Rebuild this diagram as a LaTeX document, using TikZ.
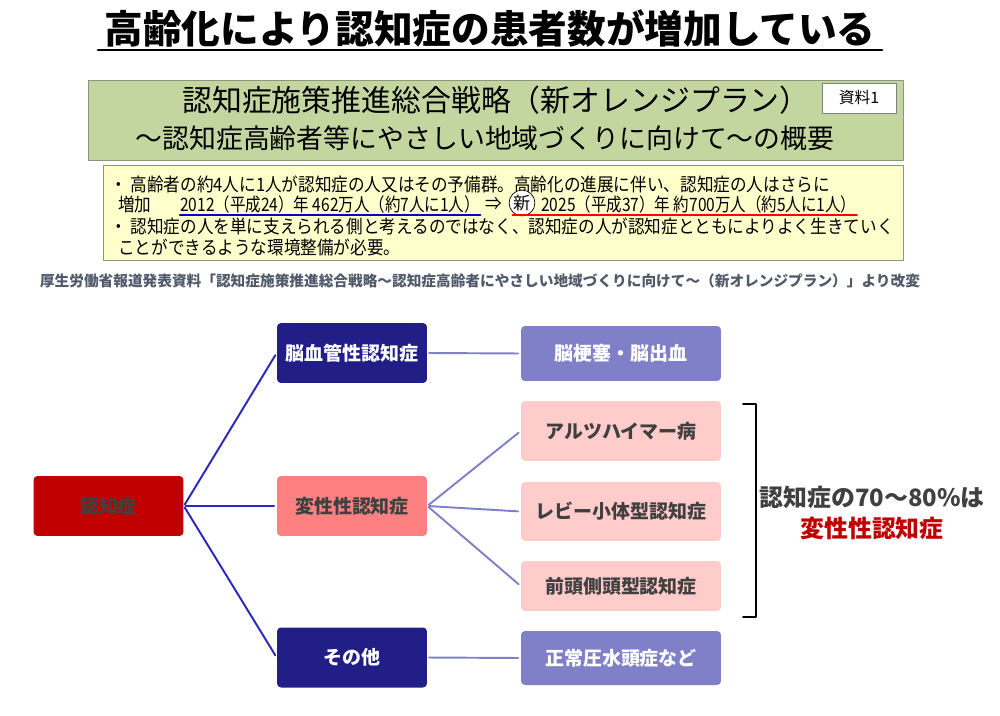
\documentclass[tikz,border=0pt]{standalone}
\usepackage{fontspec}
\setmainfont{Noto Sans CJK JP}
\usetikzlibrary{positioning}

\definecolor{navyfill}{RGB}{34,30,135}
\definecolor{lavfill}{RGB}{128,128,200}
\definecolor{rosefill}{RGB}{255,128,128}
\definecolor{palepink}{RGB}{255,204,204}
\definecolor{darkred}{RGB}{192,0,0}
\definecolor{trunkblue}{RGB}{40,40,190}
\definecolor{textgray}{RGB}{64,64,64}
\definecolor{olivefill}{RGB}{196,214,160}
\definecolor{olivedraw}{RGB}{140,150,120}
\definecolor{notefill}{RGB}{255,255,204}
\definecolor{captiongray}{RGB}{80,90,105}

\begin{document}
\begin{tikzpicture}[
  x=0.02cm,y=-0.02cm,
  line cap=round,line join=round,
  catbox/.style={rounded corners=0.8mm,inner sep=0pt,
    minimum width=3cm,minimum height=1.2cm,
    font=\fontsize{10.8}{13}\selectfont\bfseries},
  subbox/.style={catbox,minimum width=4cm},
  trunk/.style={trunkblue,line width=1.1pt,shorten <=1pt,shorten >=1.5pt},
  branch/.style={lavfill,line width=1.1pt,shorten <=1pt,shorten >=1.5pt},
  noteline/.style={anchor=west,inner sep=0pt,
    font=\fontsize{10.5}{12}\selectfont\addfontfeature{FakeStretch=0.9}},
  datedline/.style={noteline,
    font=\fontsize{10.5}{12}\selectfont\addfontfeature{FakeStretch=0.84}}
]
  \useasboundingbox (0,0) rectangle (1000,716);

  % Title.
  \node[inner sep=0pt,font=\fontsize{22}{26}\selectfont\bfseries]
    (title) at (490,28) {高齢化により認知症の患者数が増加している};
  \draw[line width=1.7pt] (98,50) -- (882,50);

  % Header panel.
  \node[draw=olivedraw,fill=olivefill,minimum width=16.3cm,
        minimum height=1.6cm] (plan) at (495.5,120) {};
  \node[font=\fontsize{17}{20}\selectfont] (planA) at (496,100)
    {認知症施策推進総合戦略（新オレンジプラン）};
  \node[font=\fontsize{15.3}{19}\selectfont] (planB) at (485,138)
    {～認知症高齢者等にやさしい地域づくりに向けて～の概要};
  \node[draw=gray,fill=white,minimum width=1.48cm,minimum height=0.6cm,
        inner sep=0pt,font=\fontsize{9}{11}\selectfont] (doc) at (859,98)
    {資料1};

  % Summary panel.
  \node[draw=olivedraw,fill=notefill,minimum width=16cm,
        minimum height=1.9cm] (note) at (503,212.5) {};
  \node[noteline] (noteA) at (110,184)
    {・ 高齢者の約4人に1人が認知症の人又はその予備群。高齢化の進展に伴い、認知症の人はさらに};
  \node[noteline] (noteB) at (118,204) {増加};
  \node[datedline] (inc12) at (180,204)
    {2012（平成24）年 462万人（約7人に1人）};
  \node[noteline] (imply) at (485,204) {⇒};
  \node[draw,circle,fill=white,inner sep=0.5pt,
        font=\fontsize{9.8}{12}\selectfont] (new) at (522,203) {新};
  \node[datedline] (inc25) at (541,204)
    {2025（平成37）年 約700万人（約5人に1人）};
  \draw[blue!80!black,line width=1.3pt]
    ([yshift=-1pt]inc12.south west) -- ([yshift=-1pt]inc12.south east);
  \draw[red,line width=1.3pt]
    ([yshift=-1pt]new.south west |- inc25.south) -- ([yshift=-1pt]inc25.south east);
  \node[noteline] (noteC) at (110,226)
    {・ 認知症の人を単に支えられる側と考えるのではなく、認知症の人が認知症とともによりよく生きていく};
  \node[noteline] (noteD) at (118,247)
    {ことができるような環境整備が必要。};

  \node[text=captiongray,font=\fontsize{8.35}{10}\selectfont\bfseries]
    (source) at (480,281)
    {厚生労働省報道発表資料「認知症施策推進総合戦略～認知症高齢者にやさしい地域づくりに向けて～（新オレンジプラン）」より改変};

  % Classification tree.
  \node[catbox,fill=darkred,text=textgray] (dem) at (108.5,506) {認知症};
  \node[catbox,fill=navyfill,text=white] (vasc) at (352,353) {脳血管性認知症};
  \node[catbox,fill=rosefill,text=textgray] (degen) at (352,506) {変性性認知症};
  \node[catbox,fill=navyfill,text=white] (other) at (352,657.5) {その他};

  \node[subbox,fill=lavfill,text=white,minimum height=1.1cm]
    (infarct) at (621,353.5) {脳梗塞・脳出血};
  \node[subbox,fill=palepink,text=textgray]
    (alz) at (621,431) {アルツハイマー病};
  \node[subbox,fill=palepink,text=textgray,minimum height=1.18cm]
    (lewy) at (621,511.5) {レビー小体型認知症};
  \node[subbox,fill=palepink,text=textgray,minimum height=1cm]
    (ftd) at (621,586) {前頭側頭型認知症};
  \node[subbox,fill=lavfill,text=white,minimum height=1.08cm]
    (nph) at (621,658) {正常圧水頭症など};

  \foreach \target in {vasc,degen,other}
    \draw[trunk] (dem.east) -- (\target.west);
  \draw[branch] (vasc.east) -- (infarct.west);
  \foreach \target in {alz,lewy,ftd}
    \draw[branch] (degen.east) -- (\target.west);
  \draw[branch] (other.east) -- (nph.west);

  % Share of degenerative types.
  \draw[line width=1.1pt] (743,404) -- (756,404) -- (756,617) -- (743,617);
  \node[text=textgray,font=\fontsize{13.6}{16}\selectfont\bfseries]
    (share) at (872,497) {認知症の70～80\%は};
  \node[text=darkred,font=\fontsize{13.6}{16}\selectfont\bfseries]
    (shareB) at (872,528) {変性性認知症};
\end{tikzpicture}
\end{document}
